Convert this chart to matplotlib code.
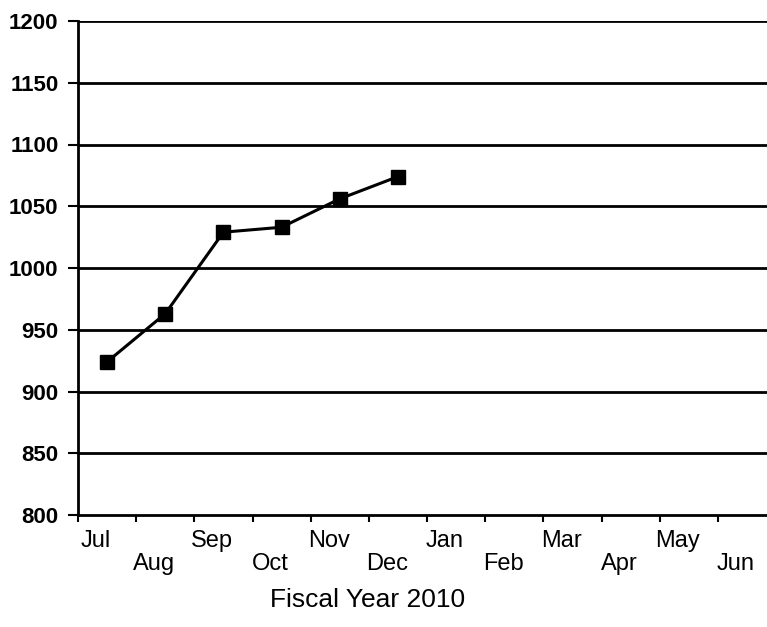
import matplotlib
matplotlib.use("Agg")
import matplotlib.pyplot as plt
import numpy as np

plt.rcParams['font.family'] = ['Liberation Sans', 'DejaVu Sans']

months = ["Jul", "Aug", "Sep", "Oct", "Nov", "Dec",
          "Jan", "Feb", "Mar", "Apr", "May", "Jun"]
values = [924, 963, 1029, 1033, 1056, 1074]
y_ticks = [800, 850, 900, 950, 1000, 1050, 1100, 1150, 1200]

fig = plt.figure(figsize=(7.67, 6.27), dpi=100)
ax = fig.add_axes([78 / 767, 112 / 627, 698 / 767, 494 / 627])

x = np.arange(len(values))
ax.plot(x, values, color="black", lw=2.2, marker="s", ms=10.5, zorder=3)

ax.set_xlim(-0.5, len(months) - 0.5)
ax.set_ylim(800, 1200)

for v in y_ticks[1:]:
    ax.axhline(v, color="black", lw=2.0, zorder=1)

ax.set_yticks(y_ticks)
ax.set_yticklabels([str(v) for v in y_ticks], fontsize=16, fontweight="bold")
ax.tick_params(axis="y", length=7, width=1.5, pad=7, direction="out")

# tick marks at category boundaries, labels staggered
ax.set_xticks(np.arange(len(months)) - 0.5)
ax.set_xticklabels([])
ax.tick_params(axis="x", length=5, width=1.5, direction="out")
trans = ax.get_xaxis_transform()
for i, m in enumerate(months):
    yoff = -0.053 if i % 2 == 0 else -0.1
    ax.text(i - 0.19, yoff, m, transform=trans, ha="center", va="center",
            fontsize=17, clip_on=False)

for s in ["top", "right"]:
    ax.spines[s].set_visible(False)
ax.spines["left"].set_linewidth(2.0)
ax.spines["bottom"].set_linewidth(2.0)

fig.text(368 / 767, 1 - 600 / 627, "Fiscal Year 2010", ha="center", va="center",
         fontsize=19)

fig.savefig("out.png", dpi=100)
